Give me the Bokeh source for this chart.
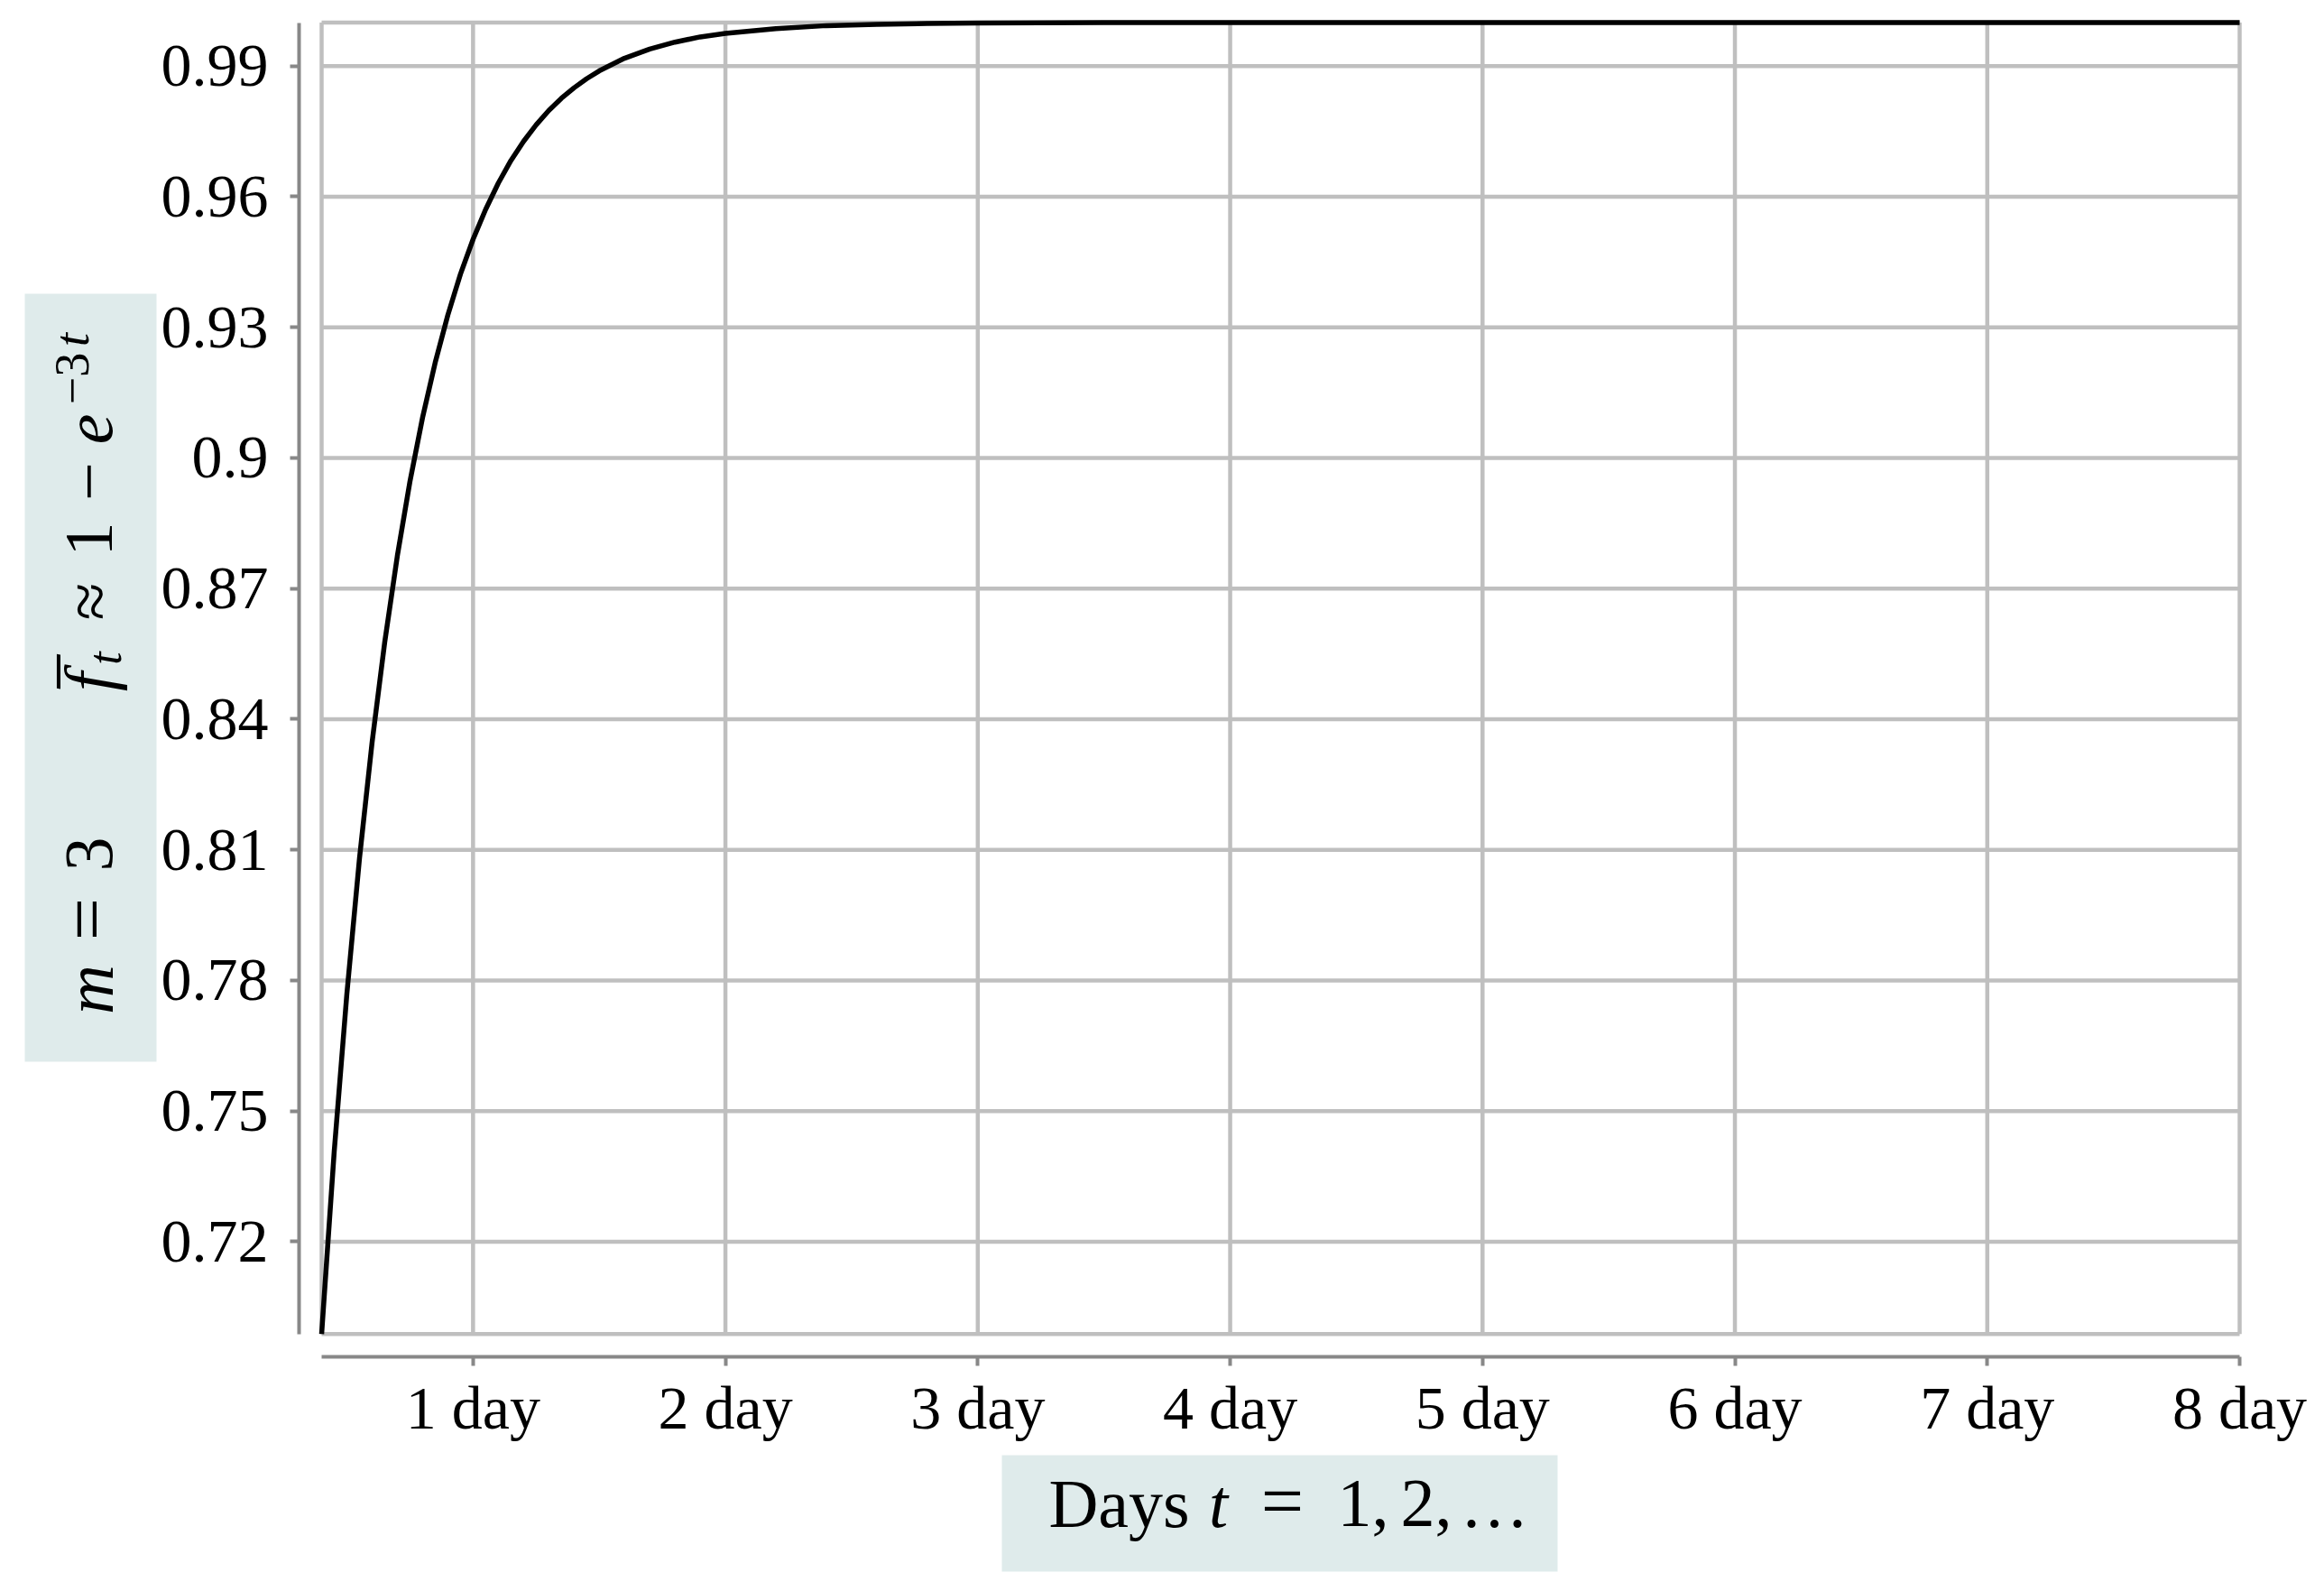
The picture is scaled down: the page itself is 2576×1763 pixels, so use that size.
import math
from bokeh.plotting import figure
from bokeh.models import Range1d, FixedTicker, Label, BoxAnnotation
from bokeh.embed import file_html
from bokeh.resources import INLINE

# ---- data ----
days = [0.40, 0.45, 0.50, 0.55, 0.60, 0.65, 0.70, 0.75, 0.80, 0.85, 0.90, 0.95,
        1.00, 1.05, 1.10, 1.15, 1.20, 1.25, 1.30, 1.35, 1.40, 1.45, 1.50, 1.60,
        1.70, 1.80, 1.90, 2.00, 2.20, 2.40, 2.60, 2.80, 3.00, 3.50, 4.00, 5.00,
        6.00, 7.00, 8.00]
f_bar = [0.6988, 0.7408, 0.7769, 0.8080, 0.8347, 0.8577, 0.8775, 0.8946, 0.9093,
         0.9219, 0.9328, 0.9422, 0.9502, 0.9571, 0.9631, 0.9683, 0.9727, 0.9765,
         0.9798, 0.9826, 0.9850, 0.9871, 0.9889, 0.9918, 0.9939, 0.9955, 0.9967,
         0.9975, 0.9986, 0.9993, 0.9996, 0.9998, 0.9999, 1.0, 1.0, 1.0,
         1.0, 1.0, 1.0]

y_ticks = [0.72, 0.75, 0.78, 0.81, 0.84, 0.87, 0.90, 0.93, 0.96, 0.99]
y_tick_labels = ["0.72", "0.75", "0.78", "0.81", "0.84", "0.87", "0.9", "0.93", "0.96", "0.99"]
x_ticks = [1, 2, 3, 4, 5, 6, 7, 8]
x_tick_labels = ["1 day", "2 day", "3 day", "4 day", "5 day", "6 day", "7 day", "8 day"]

# ---- layout (canvas pixels; the frame fills the whole canvas) ----
W, H = 2560, 1745
X0, X1 = min(days), max(days)
Y0, Y1 = min(f_bar), max(f_bar)
PX_X0, PX_X1 = 356.0, 2482.0      # pixel columns of X0 and X1
PY_Y1, PY_Y0 = 24.5, 1477.7       # pixel rows of Y1 and Y0
sx = (X1 - X0) / (PX_X1 - PX_X0)
sy = (Y1 - Y0) / (PY_Y0 - PY_Y1)
x_start = X0 - PX_X0 * sx
x_end = X1 + (W - PX_X1) * sx
y_end = Y1 + PY_Y1 * sy
y_start = Y0 - (H - PY_Y0) * sy


def dx(cx):
    return X0 + (cx - PX_X0) * sx


def dy(cy):
    return Y0 + (PY_Y0 - cy) * sy


FONT = "Liberation Serif"
GRID = "#bfbfbf"
AXIS = "#888888"
BOXC = "#dfebeb"

p = figure(width=W, height=H, output_backend="svg", toolbar_location=None,
           x_range=Range1d(x_start, x_end), y_range=Range1d(y_start, y_end),
           min_border=0)
p.outline_line_color = None
p.background_fill_color = "white"
p.border_fill_color = "white"
p.xgrid.visible = False
p.ygrid.visible = False

# title boxes
p.add_layout(BoxAnnotation(left=dx(27), right=dx(173), top=dy(325), bottom=dy(1176),
                           fill_color=BOXC, fill_alpha=1.0, line_color=None,
                           level="underlay"))
p.add_layout(BoxAnnotation(left=dx(1110), right=dx(1726), top=dy(1612), bottom=dy(1741),
                           fill_color=BOXC, fill_alpha=1.0, line_color=None,
                           level="underlay"))

# grid box drawn from tick values
vx = [X0] + x_ticks
p.segment(x0=vx, y0=[Y0] * len(vx), x1=vx, y1=[Y1] * len(vx),
          line_color=GRID, line_width=4.5)
hy = [Y0] + y_ticks + [Y1]
p.segment(x0=[X0] * len(hy), y0=hy, x1=[X1] * len(hy), y1=hy,
          line_color=GRID, line_width=4.5)

p.line(days, f_bar, line_color="black", line_width=5.5, line_join="round")

for ax in (p.xaxis[0], p.yaxis[0]):
    ax.axis_line_color = AXIS
    ax.axis_line_width = 4
    ax.major_tick_line_color = AXIS
    ax.major_tick_line_width = 4
    ax.major_tick_in = 0
    ax.major_tick_out = 10
    ax.minor_tick_line_color = None
    ax.major_label_text_font = FONT
    ax.major_label_text_font_size = "68px"
    ax.major_label_text_color = "black"

p.xaxis.ticker = FixedTicker(ticks=x_ticks)
p.xaxis.major_label_overrides = dict(zip(x_ticks, x_tick_labels))
p.xaxis.bounds = (X0, X1)
p.xaxis.fixed_location = dy(1503)
p.xaxis.major_label_standoff = 8
p.yaxis.ticker = FixedTicker(ticks=y_ticks)
p.yaxis.major_label_overrides = dict(zip(y_ticks, y_tick_labels))
p.yaxis.bounds = (Y0, Y1)
p.yaxis.fixed_location = dx(331)
p.yaxis.major_label_standoff = 24

SHIFT = 0.35  # baseline correction, in em


def lab(text, cx, cy, size=76, style="normal", rotated=False, align="center"):
    off = SHIFT * size
    if rotated:
        x, y, ang = cx - off, cy, math.pi / 2
    else:
        x, y, ang = cx, cy - off, 0.0
    p.add_layout(Label(x=dx(x), y=dy(y), text=text, text_font=FONT,
                       text_font_size=f"{size}px", text_font_style=style,
                       text_color="black", angle=ang, text_align=align,
                       text_baseline="alphabetic"))


# y title: m = 3    f̄_t ≈ 1 − e^{−3t}  (rotated)
lab("m", 125, 1096, style="italic", rotated=True)
lab("=", 125, 1018, size=84, rotated=True)
lab("3", 125, 946, rotated=True)
lab("f\u0305", 125, 755, style="italic", rotated=True)
lab("t", 134, 729, size=52, style="italic", rotated=True)
lab("\u2248", 125, 666, rotated=True)
lab("1", 125, 597, rotated=True)
lab("\u2212", 125, 533, rotated=True)
lab("e", 125, 475, style="italic", rotated=True)
lab("\u22123", 98, 419, size=54, rotated=True)
lab("t", 98, 376, size=54, style="italic", rotated=True)

# x title: Days t = 1, 2, …
lab("Days", 1240, 1692)
lab("t", 1350, 1692, style="italic")
lab("=", 1421, 1692, size=84)
lab("1,", 1482, 1692, align="left")
lab("2,", 1552, 1692, align="left")
lab("\u2026", 1656, 1692)

open("out.html", "w").write(file_html(p, INLINE))
